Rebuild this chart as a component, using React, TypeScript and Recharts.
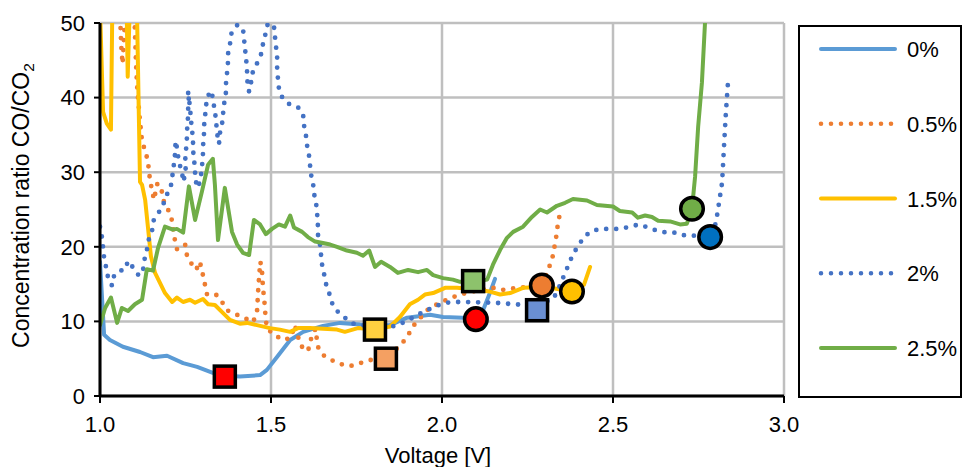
import React from 'react';
import { ComposedChart, Line, Scatter, XAxis, YAxis, CartesianGrid } from 'recharts';

const FONT = '"Liberation Sans", Arial, Helvetica, sans-serif';

// ---- data (voltage [V], concentration ratio CO/CO2) ----
const seriesNames = ['0%', '0.5%', '1.5%', '2%', '2.5%'];

const pts0: number[][] = [
  [1.0, 18.0], [1.012, 8.2], [1.029, 7.5], [1.067, 6.6], [1.117, 5.9], [1.155, 5.2], [1.196, 5.4],
  [1.243, 4.4], [1.284, 3.9], [1.33, 3.1], [1.365, 2.7], [1.409, 2.6], [1.468, 2.8], [1.488, 3.5],
  [1.517, 5.2], [1.556, 7.5], [1.594, 8.6], [1.652, 9.4], [1.702, 9.8], [1.76, 9.6], [1.848, 9.5],
  [1.898, 10.5], [1.965, 10.9], [2.003, 10.6], [2.061, 10.5], [2.099, 10.3], [2.12, 11.5],
  [2.14, 13.8], [2.155, 15.7],
];

const pts05: number[][] = [
  [1.058, 52], [1.062, 47], [1.066, 44.5], [1.07, 48], [1.075, 52], [1.1, 52], [1.105, 45],
  [1.108, 42], [1.111, 40], [1.117, 36.8], [1.123, 34.1], [1.132, 32.9], [1.14, 31.5], [1.146, 29],
  [1.152, 27.6], [1.158, 26.3], [1.163, 27.5], [1.168, 28.5], [1.175, 27.8], [1.181, 27.4],
  [1.187, 26], [1.199, 25], [1.21, 23.6], [1.219, 20.9], [1.225, 19.7], [1.237, 19.8], [1.249, 20.3],
  [1.254, 18.9], [1.269, 17.6], [1.281, 16.9], [1.292, 18], [1.301, 16.2], [1.307, 14.9],
  [1.313, 13.6], [1.339, 13.6], [1.357, 12.6], [1.371, 11.5], [1.395, 11], [1.421, 10.5],
  [1.447, 9.9], [1.459, 11.1], [1.462, 13.8], [1.466, 16.5], [1.469, 18], [1.474, 16.5],
  [1.477, 14.2], [1.48, 13.2], [1.482, 11.8], [1.485, 10.2], [1.488, 9.1], [1.506, 8.3],
  [1.535, 7.5], [1.558, 7.8], [1.57, 9.5], [1.575, 8.5], [1.588, 6.7], [1.608, 6.0], [1.618, 7.8],
  [1.63, 9.0], [1.637, 6.6], [1.652, 5.5], [1.678, 4.8], [1.702, 4.3], [1.731, 4.0], [1.76, 4.4],
  [1.787, 4.8], [1.82, 5.0], [1.836, 5.0], [1.86, 6.0], [1.886, 7.2], [1.904, 8.4], [1.918, 9.5],
  [1.939, 10.6], [1.956, 11.5], [1.982, 12.2], [2.009, 12.8], [2.035, 13.3], [2.07, 13.8],
  [2.11, 14.2], [2.149, 14.5], [2.175, 14.2], [2.205, 14.4], [2.25, 14.6], [2.292, 14.8],
  [2.31, 16.9], [2.322, 18.3], [2.327, 19.6], [2.333, 20.9], [2.336, 22.3], [2.342, 23.6],
  [2.345, 25.0],
];

const pts15: number[][] = [
  [1.0, 52], [1.009, 38.1], [1.02, 36.5], [1.032, 35.7], [1.036, 52], [1.078, 52], [1.081, 42.8],
  [1.087, 52], [1.108, 52], [1.117, 28.7], [1.123, 28.3], [1.132, 26.3], [1.14, 22.7],
  [1.149, 18.7], [1.161, 16.5], [1.175, 15.2], [1.19, 13.8], [1.211, 12.6], [1.225, 13.2],
  [1.243, 12.6], [1.263, 12.9], [1.278, 12.5], [1.301, 13.0], [1.316, 12.3], [1.336, 12.2],
  [1.36, 11.1], [1.38, 10.2], [1.409, 9.7], [1.43, 9.8], [1.459, 9.5], [1.497, 9.1], [1.526, 8.9],
  [1.556, 8.6], [1.579, 9.1], [1.614, 9.1], [1.652, 9.0], [1.693, 8.9], [1.716, 8.6],
  [1.754, 9.1], [1.804, 8.9], [1.848, 9.3], [1.877, 10.6], [1.906, 12.3], [1.93, 12.9],
  [1.95, 13.6], [1.974, 13.8], [2.009, 14.5], [2.044, 14.5], [2.09, 14.3], [2.14, 14.0],
  [2.17, 13.6], [2.199, 13.8], [2.237, 14.5], [2.292, 14.6], [2.33, 14.4], [2.38, 14.0],
  [2.415, 14.9], [2.433, 17.3],
];

const pts2: number[][] = [
  [1.0, 22.7], [1.006, 21.2], [1.009, 19.9], [1.012, 18.5], [1.018, 17.2], [1.023, 16.0],
  [1.035, 14.8], [1.041, 16.1], [1.056, 16.8], [1.073, 16.9], [1.082, 18.1], [1.097, 17.2],
  [1.114, 16.1], [1.126, 16.9], [1.129, 18.1], [1.137, 19.5], [1.14, 20.7], [1.152, 22.0],
  [1.155, 23.4], [1.17, 24.5], [1.184, 25.4], [1.19, 26.6], [1.205, 27.7], [1.211, 29.0],
  [1.213, 30.3], [1.219, 31.7], [1.219, 33.0], [1.222, 34.2], [1.231, 31.3], [1.24, 30.0],
  [1.243, 28.7], [1.251, 30.0], [1.249, 31.5], [1.251, 32.8], [1.254, 34.1], [1.254, 35.4],
  [1.257, 36.8], [1.257, 38.1], [1.26, 39.6], [1.257, 40.9], [1.263, 38.8], [1.266, 37.0],
  [1.269, 35.7], [1.272, 34.4], [1.272, 33.0], [1.275, 31.7], [1.278, 30.3], [1.278, 29.0],
  [1.287, 27.9], [1.295, 29.4], [1.298, 30.7], [1.301, 32.1], [1.301, 33.4], [1.304, 34.8],
  [1.304, 36.1], [1.307, 37.4], [1.31, 38.8], [1.313, 40.1], [1.327, 40.9], [1.33, 39.6],
  [1.336, 38.3], [1.339, 36.9], [1.342, 35.6], [1.345, 34.2], [1.348, 33.8], [1.351, 35.3],
  [1.357, 36.5], [1.36, 37.9], [1.363, 39.2], [1.368, 40.5], [1.368, 41.7], [1.371, 43.1],
  [1.374, 44.4], [1.374, 45.8], [1.38, 47.1], [1.383, 48.5], [1.401, 49.7], [1.418, 49.3],
  [1.421, 47.9], [1.424, 46.6], [1.427, 45.2], [1.43, 44.0], [1.43, 42.7], [1.433, 41.3],
  [1.436, 40.8], [1.442, 42.1], [1.447, 43.5], [1.465, 45.1], [1.474, 46.2], [1.477, 47.4],
  [1.485, 48.7], [1.491, 50.0], [1.509, 49.4], [1.512, 48.0], [1.515, 46.7], [1.518, 45.4],
  [1.518, 44.0], [1.52, 42.7], [1.523, 41.3], [1.532, 40.1], [1.55, 39.2], [1.579, 38.7],
  [1.594, 37.7], [1.596, 36.4], [1.602, 35.0], [1.605, 33.7], [1.611, 32.3], [1.614, 31.0],
  [1.617, 29.7], [1.623, 28.5], [1.626, 27.1], [1.632, 25.8], [1.635, 24.4], [1.637, 23.0],
  [1.637, 21.7], [1.643, 20.4], [1.649, 17.7], [1.655, 16.4], [1.661, 15.0], [1.67, 13.8],
  [1.678, 12.5], [1.693, 11.4], [1.716, 10.5], [1.74, 9.7], [1.78, 9.4], [1.82, 9.3],
  [1.854, 9.3], [1.88, 9.7], [1.906, 10.3], [1.93, 10.9], [1.956, 11.5], [1.985, 12.1],
  [2.012, 12.5], [2.038, 12.6], [2.067, 12.6], [2.155, 12.5], [2.24, 12.2], [2.29, 12.4],
  [2.325, 13.0], [2.339, 14.2], [2.36, 16.5], [2.383, 19.0], [2.398, 20.1], [2.415, 21.3],
  [2.436, 22.1], [2.465, 22.4], [2.494, 22.4], [2.52, 22.4], [2.55, 22.7], [2.576, 23.0],
  [2.602, 22.6], [2.632, 22.1], [2.658, 21.9], [2.687, 21.9], [2.711, 21.5], [2.734, 21.5],
  [2.784, 21.3], [2.801, 23.2], [2.81, 25.9], [2.819, 28.6], [2.825, 33.8], [2.83, 37.9],
  [2.836, 41.9],
];

const pts25: number[][] = [
  [1.0, 9.5], [1.015, 11.8], [1.032, 13.2], [1.05, 9.8], [1.064, 11.8], [1.082, 11.4],
  [1.102, 12.3], [1.123, 12.9], [1.137, 17.0], [1.155, 16.8], [1.17, 19.9], [1.19, 22.7],
  [1.213, 22.3], [1.225, 22.4], [1.243, 21.9], [1.26, 28.1], [1.278, 23.6], [1.298, 27.4],
  [1.316, 31.0], [1.33, 31.8], [1.336, 28.3], [1.345, 20.9], [1.365, 27.9], [1.386, 22.0],
  [1.401, 20.3], [1.418, 19.2], [1.436, 18.9], [1.45, 23.6], [1.468, 23.0], [1.485, 21.7],
  [1.503, 22.4], [1.523, 23.0], [1.541, 22.7], [1.556, 24.2], [1.567, 22.6], [1.591, 22.0],
  [1.608, 21.3], [1.629, 20.7], [1.652, 20.5], [1.673, 20.3], [1.693, 20.0], [1.722, 19.5],
  [1.751, 19.2], [1.769, 18.8], [1.787, 19.5], [1.804, 17.3], [1.822, 18.0], [1.848, 17.3],
  [1.871, 16.5], [1.901, 16.9], [1.93, 16.6], [1.956, 16.9], [1.974, 16.2], [2.003, 15.8],
  [2.032, 15.6], [2.053, 15.3], [2.085, 15.2], [2.132, 15.6], [2.149, 17.6], [2.17, 19.6],
  [2.19, 21.2], [2.208, 22.0], [2.237, 22.7], [2.263, 24.0], [2.287, 25.0], [2.307, 24.6],
  [2.336, 25.5], [2.36, 25.9], [2.383, 26.4], [2.424, 26.2], [2.453, 25.6], [2.5, 25.4],
  [2.52, 24.8], [2.556, 24.6], [2.573, 23.9], [2.594, 24.2], [2.614, 24.0], [2.632, 23.5],
  [2.667, 23.4], [2.696, 23.0], [2.716, 23.1], [2.731, 25.1], [2.74, 29.4], [2.749, 36.1],
  [2.76, 42.0], [2.769, 50.0], [2.771, 52],
];

const squarePts: number[][] = [[1.365, 2.6], [1.804, 8.9], [1.836, 5.0], [2.091, 15.4], [2.278, 11.5]];
const circlePts: number[][] = [[2.099, 10.3], [2.292, 14.8], [2.38, 14.0], [2.731, 25.1], [2.784, 21.3]];

const xTicks = [1.0, 1.5, 2.0, 2.5, 3.0];
const yTicks = [0, 10, 20, 30, 40, 50];

// ---- styles ----
const seriesColors = ['#5B9BD5', '#ED7D31', '#FFC000', '#4472C4', '#70AD47'];
const seriesDotted = [false, true, false, true, false];
const squareColors = ['#FF0000', '#FFD040', '#F4A062', '#8DC26C', '#6A8FD2'];
const circleColors = ['#FF0000', '#ED7D31', '#FFC000', '#70AD47', '#0070C0'];

const toRows = (p: number[][]) => p.map(([v, y]) => ({ v, y }));
const allSeries = [pts0, pts05, pts15, pts2, pts25];

const makeSquare = (fill: string) => (props: any) => (
  <rect x={props.cx - 10.5} y={props.cy - 10.5} width={21} height={21} fill={fill} stroke="#000" strokeWidth={3.5} />
);
const makeCircle = (fill: string) => (props: any) => (
  <circle cx={props.cx} cy={props.cy} r={11.3} fill={fill} stroke="#000" strokeWidth={3.5} />
);

const XLabel = (props: any) => {
  const vb = props.viewBox || { x: 100, y: 396, width: 684 };
  return (
    <text x={vb.x + vb.width / 2 - 4} y={vb.y + 67} textAnchor="middle" fontSize={22} fill="#000" fontFamily={FONT}>
      Voltage [V]
    </text>
  );
};

const YLabel = (props: any) => {
  const vb = props.viewBox || { x: 0, y: 23, height: 373 };
  const cy = vb.y + vb.height / 2 - 4;
  return (
    <text transform={`translate(29, ${cy}) rotate(-90)`} x={0} y={0} textAnchor="middle" fontSize={23} fill="#000" fontFamily={FONT}>
      Concentration ratio CO/CO<tspan dy={5} fontSize={15.5}>2</tspan>
    </text>
  );
};

const Legend = () => {
  const w = 164;
  const h = 373;
  return (
    <svg width={w} height={h} style={{ position: 'absolute', left: 798, top: 25 }}>
      <rect x={1} y={1} width={w - 2} height={h - 2} fill="#fff" stroke="#000" strokeWidth={2} />
      {seriesNames.map((name, i) => {
        const cy = 24 + i * 74.75;
        return (
          <g key={name}>
            <line
              x1={23}
              x2={97}
              y1={cy}
              y2={cy}
              stroke={seriesColors[i]}
              strokeWidth={seriesDotted[i] ? 4.6 : 4}
              strokeLinecap="round"
              strokeDasharray={seriesDotted[i] ? '0 10' : undefined}
            />
            <text x={109} y={cy + 8} fontSize={22} fill="#000" fontFamily={FONT}>
              {name}
            </text>
          </g>
        );
      })}
    </svg>
  );
};

export default function App() {
  return (
    <div style={{ position: 'relative', width: 965, height: 467, background: '#fff', fontFamily: FONT }}>
      <style>{`body{margin:0;background:#fff;}`}</style>
      <ComposedChart width={965} height={467} margin={{ top: 23, right: 181, bottom: 0, left: 0 }}>
        <CartesianGrid stroke="#BFBFBF" strokeWidth={2.5} />
        <XAxis
          type="number"
          dataKey="v"
          domain={[1, 3]}
          ticks={xTicks}
          allowDataOverflow
          height={71}
          tickFormatter={(t: number) => t.toFixed(1)}
          tick={{ fontSize: 22, fill: '#000', fontFamily: FONT }}
          axisLine={{ stroke: '#000', strokeWidth: 3 }}
          tickLine={{ stroke: '#000', strokeWidth: 2 }}
          tickSize={7}
          tickMargin={13}
          label={<XLabel />}
        />
        <YAxis
          type="number"
          dataKey="y"
          domain={[0, 50]}
          ticks={yTicks}
          allowDataOverflow
          width={100}
          tick={{ fontSize: 22, fill: '#000', fontFamily: FONT }}
          axisLine={{ stroke: '#000', strokeWidth: 3 }}
          tickLine={{ stroke: '#000', strokeWidth: 2 }}
          tickSize={6}
          tickMargin={9}
          label={<YLabel />}
        />
        {allSeries.map((pts, i) => (
          <Line
            key={seriesNames[i]}
            name={seriesNames[i]}
            data={toRows(pts)}
            dataKey="y"
            type="linear"
            stroke={seriesColors[i]}
            strokeWidth={seriesDotted[i] ? 4.8 : 4}
            strokeLinecap="round"
            strokeLinejoin="round"
            strokeDasharray={seriesDotted[i] ? '0 10' : undefined}
            dot={false}
            activeDot={false}
            isAnimationActive={false}
          />
        ))}
        {squarePts.map((p, i) => (
          <Scatter
            key={'sq' + i}
            data={toRows([p])}
            dataKey="y"
            shape={makeSquare(squareColors[i])}
            isAnimationActive={false}
          />
        ))}
        {circlePts.map((p, i) => (
          <Scatter
            key={'ci' + i}
            data={toRows([p])}
            dataKey="y"
            shape={makeCircle(circleColors[i])}
            isAnimationActive={false}
          />
        ))}
      </ComposedChart>
      <Legend />
    </div>
  );
}
